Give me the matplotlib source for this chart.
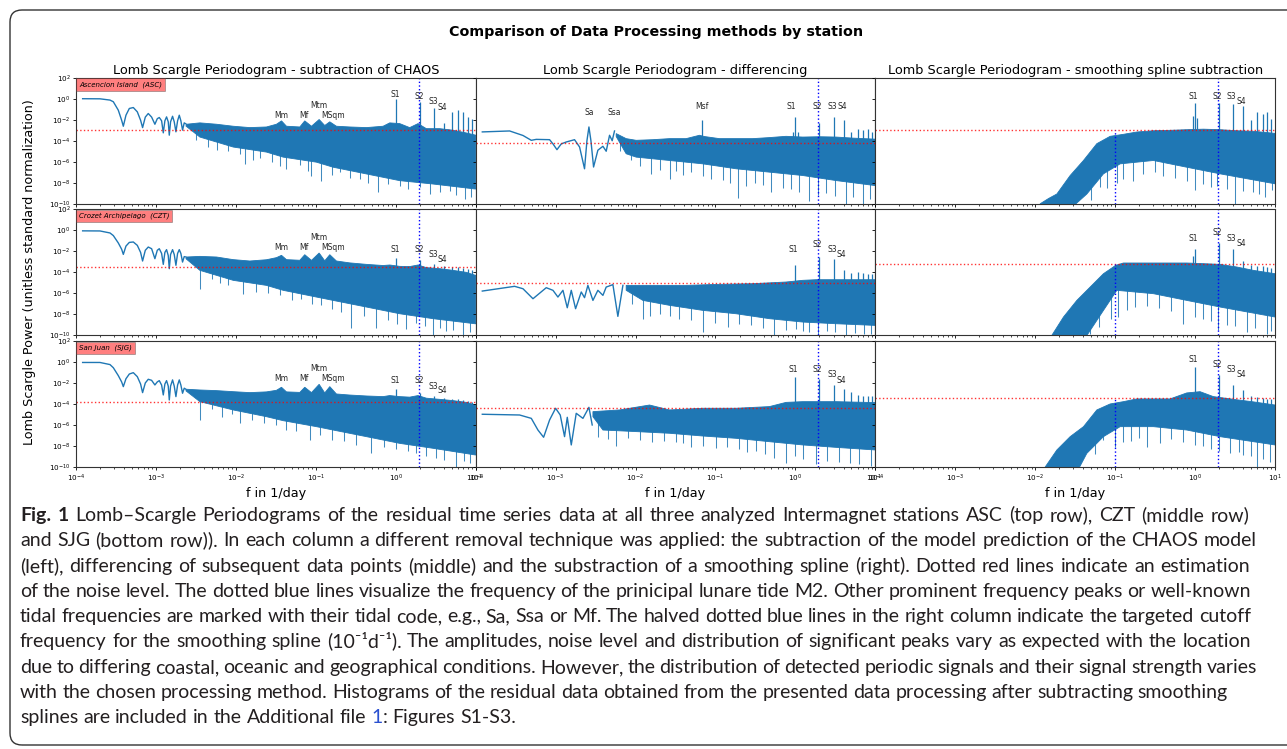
import numpy as np
import matplotlib
matplotlib.use("Agg")
import matplotlib.pyplot as plt
from matplotlib.patches import FancyBboxPatch
from matplotlib.transforms import IdentityTransform
from matplotlib.ticker import FixedLocator, NullLocator

W, H, DPI = 1287, 749, 100
BLUE = "#1f77b4"

# ------------------------------------------------------------------ texts
fig_title = "Comparison of Data Processing methods by station"
col_titles = ["Lomb Scargle Periodogram - subtraction of CHAOS",
              "Lomb Scargle Periodogram - differencing",
              "Lomb Scargle Periodogram - smoothing spline subtraction"]
station_labels = ["Ascencion Island  (ASC)", "Crozet Archipelago  (CZT)", "San Juan  (SJG)"]
y_label = "Lomb Scargle Power (unitless standard normalization)"
x_label = "f in 1/day"
m2_freq = 1.9323
cutoff_freq = 0.1
y_tick_exps = [2, 0, -2, -4, -6, -8, -10]

# ------------------------------------------------------------------ data
# all values, stored as log10(frequency) / log10(power)

# ---- column 1: subtraction of CHAOS
chaos_curve_lf = [-3.917, -3.700, -3.575, -3.533, -3.471, -3.429, -3.408, -3.375, -3.333, -3.283,
                  -3.233, -3.192, -3.167, -3.133, -3.096, -3.054, -3.013, -2.983, -2.958, -2.929,
                  -2.908, -2.888, -2.867, -2.846, -2.833, -2.817, -2.792, -2.771, -2.750, -2.729,
                  -2.708, -2.688, -2.667, -2.646, -2.625]
asc_chaos_curve_lp = [0.0, -0.01, -0.13, -0.29, -1.09, -2.05, -2.62, -1.57, -0.93, -0.84,
                      -1.25, -2.05, -2.75, -1.75, -1.41, -1.75, -2.43, -1.9, -1.79, -2.1,
                      -3.25, -2.1, -1.73, -2.2, -3.47, -2.2, -1.67, -2.2, -3.15, -2.1,
                      -1.57, -2.1, -2.99, -2.3, -2.4]
czt_chaos_curve_lp = [-0.05, -0.06, -0.25, -0.5, -1.2, -1.8, -2.29, -1.5, -1.15, -1.11,
                      -1.43, -2.1, -2.92, -1.9, -1.59, -1.75, -2.7, -1.9, -1.75, -2.2,
                      -3.24, -2.1, -1.84, -2.4, -3.65, -2.3, -1.84, -2.3, -3.33, -2.2,
                      -1.84, -2.2, -3.02, -2.5, -2.54]
sjg_chaos_curve_lp = [-0.05, -0.05, -0.25, -0.55, -1.3, -1.9, -2.35, -1.6, -1.15, -1.02,
                      -1.4, -2.1, -2.92, -2.0, -1.65, -1.75, -2.19, -1.9, -1.78, -2.2,
                      -3.14, -2.1, -1.78, -2.3, -3.62, -2.3, -1.71, -2.3, -3.3, -2.2,
                      -1.71, -2.2, -2.98, -2.5, -2.6]

chaos_top_lf = [-2.617, -2.45, -2.242, -2.033, -1.825, -1.617, -1.492, -1.429, -1.367, -1.2,
                -1.138, -1.054, -0.958, -0.888, -0.825, -0.742, -0.575, -0.367, -0.158, -0.075,
                0.05, 0.175, 0.279, 0.383, 0.55, 0.717, 0.883, 1.0]
asc_chaos_top_lp = [-2.43, -2.30, -2.43, -2.62, -2.75, -2.69, -2.43, -2.11, -2.62, -2.69,
                    -2.11, -2.62, -1.98, -2.55, -2.2, -2.62, -2.69, -2.75, -2.62, -2.3,
                    -2.37, -2.75, -2.37, -2.85, -2.85, -3.0, -3.26, -3.47]
czt_chaos_top_lp = [-2.54, -2.48, -2.54, -2.79, -2.92, -2.8, -2.6, -2.38, -2.79, -2.85,
                    -2.32, -2.86, -2.16, -2.9, -2.32, -2.92, -3.1, -3.24, -3.35, -3.3,
                    -3.43, -3.45, -3.3, -3.55, -3.65, -3.81, -4.0, -4.29]
sjg_chaos_top_lp = [-2.6, -2.67, -2.73, -2.83, -2.92, -2.85, -2.7, -2.41, -2.85, -2.9,
                    -2.41, -2.92, -2.13, -2.95, -2.35, -3.05, -3.15, -3.24, -3.3, -3.2,
                    -3.3, -3.35, -3.2, -3.45, -3.56, -3.68, -3.85, -4.1]

chaos_bot_lf = [-2.625, -2.45, -2.033, -1.617, -1.408, -0.992, -0.783, -0.367, 0.05, 0.467, 1.0]
asc_chaos_bot_lp = [-2.6, -3.65, -4.60, -5.08, -5.56, -6.04, -6.52, -7.16, -7.80, -8.12, -8.6]
czt_chaos_bot_lp = [-2.7, -3.81, -4.76, -5.24, -5.71, -6.35, -6.67, -7.3, -7.94, -8.41, -8.9]
sjg_chaos_bot_lp = [-2.75, -3.78, -4.57, -5.21, -5.59, -6.16, -6.48, -7.11, -7.75, -8.22, -8.86]

asc_chaos_dip_lf = [-2.5, -2.35, -2.242, -2.1, -1.95, -1.888, -1.78, -1.7, -1.55, -1.45,
                    -1.367, -1.2, -1.1, -1.054, -0.929, -0.8, -0.7, -0.575, -0.45, -0.35,
                    -0.221, -0.1, 0.05, 0.15, 0.3, 0.425, 0.55, 0.675, 0.75, 0.863, 0.946]
asc_chaos_dip_lp = [-3.9, -4.6, -4.9, -5.0, -5.3, -6.2, -5.8, -5.6, -6.0, -6.4,
                    -6.68, -6.3, -6.9, -7.32, -7.8, -7.3, -7.0, -7.5, -7.6, -8.0,
                    -8.92, -8.1, -8.3, -8.6, -8.4, -9.08, -8.9, -8.8, -9.2, -9.54, -9.4]
czt_chaos_dip_lf = [-2.45, -2.3, -2.2, -2.096, -1.908, -1.75, -1.6, -1.45, -1.3, -1.179,
                    -1.05, -0.929, -0.8, -0.68, -0.554, -0.4, -0.242, -0.1, 0.02, 0.133,
                    0.25, 0.37, 0.467, 0.55, 0.633, 0.72, 0.842, 0.93]
czt_chaos_dip_lp = [-5.62, -4.6, -5.0, -5.24, -6.03, -5.9, -6.0, -6.2, -6.6, -6.5,
                    -7.0, -7.14, -7.5, -7.8, -9.3, -8.2, -9.3, -8.5, -8.9, -9.4,
                    -8.8, -9.1, -10.0, -9.3, -9.6, -9.5, -10.0, -9.7]
sjg_chaos_dip_lf = [-2.45, -2.3, -2.179, -2.05, -1.95, -1.8, -1.65, -1.5, -1.367, -1.25,
                    -1.075, -0.95, -0.8, -0.65, -0.5, -0.304, -0.15, 0.0, 0.15, 0.25,
                    0.383, 0.5, 0.6, 0.758, 0.85, 0.925]
sjg_chaos_dip_lp = [-5.52, -4.5, -5.2, -5.0, -5.84, -5.5, -5.8, -6.0, -6.48, -6.6,
                    -7.43, -7.0, -7.4, -7.5, -7.9, -8.7, -8.1, -8.3, -8.5, -8.7,
                    -9.0, -9.1, -9.3, -9.97, -9.4, -9.6]

harm_f = [1, 2, 3, 4, 5, 6, 7, 8, 9]
asc_chaos_peak_lp = [-0.04, -0.29, -0.93, -2.3, -1.3, -1.12, -1.3, -1.7, -1.89]
czt_chaos_peak_lp = [-2.6, -2.83, -3.2, -3.4, -3.5, -3.5, -3.6, -3.7, -3.8]
sjg_chaos_peak_lp = [-2.6, -2.98, -3.2, -3.45, -3.5, -3.5, -3.6, -3.7, -3.8]

asc_chaos_noise_lp = -3.0
czt_chaos_noise_lp = -3.52
sjg_chaos_noise_lp = -3.78

chaos_lab_names = ["Mm", "Mf", "Mtm", "MSqm", "S1", "S2", "S3", "S4"]
chaos_lab_lf = [-1.43, -1.15, -0.96, -0.78, 0.0, 0.29, 0.47, 0.58]
asc_chaos_lab_lp = [-1.57, -1.57, -0.61, -1.57, 0.41, 0.18, -0.3, -0.83]
czt_chaos_lab_lp = [-1.59, -1.59, -0.64, -1.59, -1.84, -1.84, -2.32, -2.79]
sjg_chaos_lab_lp = [-1.56, -1.56, -0.6, -1.56, -1.81, -1.81, -2.29, -2.76]

# ---- column 2: differencing
asc_diff_curve_lf = [-3.917, -3.575, -3.408, -3.304, -3.242, -3.075, -3.033, -2.983, -2.929, -2.867,
                     -2.763, -2.7, -2.638, -2.608, -2.583, -2.558, -2.525, -2.471, -2.408, -2.367,
                     -2.325, -2.292, -2.263]
asc_diff_curve_lp = [-3.16, -3.07, -3.5, -3.96, -3.87, -3.9, -4.3, -4.85, -4.3, -4.12,
                     -3.9, -4.6, -6.67, -4.0, -2.69, -4.0, -6.5, -4.9, -4.53, -5.0,
                     -3.48, -4.0, -3.07]
czt_diff_curve_lf = [-3.917, -3.513, -3.408, -3.283, -3.117, -3.033, -2.971, -2.908, -2.854, -2.804,
                     -2.75, -2.679, -2.638, -2.596, -2.533, -2.471, -2.408, -2.367, -2.283, -2.221,
                     -2.158]
czt_diff_curve_lp = [-5.78, -5.33, -5.56, -6.51, -5.46, -5.71, -6.35, -5.71, -7.37, -5.71,
                     -7.46, -5.87, -6.41, -5.24, -6.67, -5.71, -6.19, -5.4, -5.17, -8.19,
                     -5.24]
sjg_diff_curve_lf = [-3.917, -3.45, -3.304, -3.221, -3.15, -3.075, -3.0, -2.942, -2.888, -2.854,
                     -2.804, -2.742, -2.658, -2.583, -2.542]
sjg_diff_curve_lp = [-4.98, -5.05, -5.37, -6.48, -7.17, -5.52, -4.41, -5.05, -7.11, -5.27,
                     -7.9, -4.89, -5.37, -4.32, -6.0]

asc_diff_top_lf = [-2.242, -2.117, -1.992, -1.783, -1.575, -1.367, -1.2, -1.138, -0.95, -0.742,
                   -0.533, -0.325, -0.117, 0.092, 0.3, 0.508, 0.717, 1.0]
asc_diff_top_lp = [-3.32, -3.8, -3.96, -3.9, -3.8, -3.8, -3.48, -3.6, -3.8, -3.8,
                   -3.8, -3.7, -3.58, -3.65, -3.62, -3.65, -3.75, -3.85]
asc_diff_bot_lf = [-2.242, -2.117, -1.992, -1.575, -1.158, -0.742, -0.325, 0.092, 0.508, 1.0]
asc_diff_bot_lp = [-3.6, -5.24, -5.56, -5.88, -6.2, -6.67, -6.99, -7.31, -7.79, -8.27]
czt_diff_top_lf = [-2.117, -1.783, -1.367, -0.95, -0.533, -0.117, 0.092, 0.258, 0.508, 1.0]
czt_diff_top_lp = [-5.24, -5.24, -5.24, -5.14, -5.08, -4.92, -4.76, -4.7, -4.7, -4.7]
czt_diff_bot_lf = [-2.117, -1.908, -1.575, -1.158, -0.742, -0.325, 0.092, 0.508, 1.0]
czt_diff_bot_lp = [-5.71, -6.67, -7.14, -7.62, -7.94, -8.41, -8.73, -8.89, -9.05]
sjg_diff_top_lf = [-2.533, -2.2, -1.825, -1.575, -1.158, -0.742, -0.325, -0.117, 0.092, 0.508, 1.0]
sjg_diff_top_lp = [-4.73, -4.57, -4.1, -4.57, -4.41, -4.41, -4.25, -3.85, -3.78, -3.78, -3.87]
sjg_diff_bot_lf = [-2.533, -2.408, -1.992, -1.575, -1.158, -0.742, -0.325, 0.092, 0.508, 1.0]
sjg_diff_bot_lp = [-5.21, -6.48, -6.63, -6.79, -7.05, -7.27, -7.59, -7.9, -8.13, -8.38]

asc_diff_dip_lf = [-2.2, -2.054, -1.95, -1.804, -1.7, -1.575, -1.5, -1.408, -1.3, -1.158,
                   -1.05, -0.9, -0.82, -0.721, -0.617, -0.5, -0.4, -0.3, -0.158, -0.05,
                   0.05, 0.175, 0.28, 0.383, 0.5, 0.633, 0.72, 0.842, 0.93]
asc_diff_dip_lp = [-5.0, -5.88, -6.4, -7.15, -6.8, -7.63, -6.9, -7.3, -7.0, -7.4,
                   -7.6, -7.7, -8.0, -9.45, -8.27, -8.0, -8.2, -8.9, -8.5, -8.6,
                   -8.9, -9.7, -9.2, -9.0, -9.3, -10.0, -9.4, -10.0, -9.5]
czt_diff_dip_lf = [-2.05, -1.908, -1.825, -1.7, -1.575, -1.45, -1.3, -1.158, -1.0, -0.846,
                   -0.7, -0.55, -0.4, -0.263, -0.12, 0.008, 0.1, 0.175, 0.279, 0.4,
                   0.5, 0.633, 0.75, 0.863, 0.95]
czt_diff_dip_lp = [-7.0, -8.41, -8.2, -8.0, -8.2, -8.4, -8.5, -9.68, -8.8, -9.2,
                   -8.9, -9.0, -9.3, -10.0, -9.5, -9.4, -9.6, -9.68, -10.0, -9.6,
                   -9.7, -10.0, -9.8, -9.84, -9.9]
sjg_diff_dip_lf = [-2.471, -2.35, -2.242, -2.1, -1.95, -1.792, -1.65, -1.5, -1.4, -1.304,
                   -1.15, -0.992, -0.85, -0.7, -0.6, -0.492, -0.38, -0.263, -0.117, 0.0,
                   0.1, 0.258, 0.4, 0.55, 0.68, 0.8, 0.946]
sjg_diff_dip_lp = [-7.11, -7.3, -8.0, -7.2, -7.4, -7.6, -7.5, -7.6, -7.7, -8.13,
                   -8.0, -8.2, -8.1, -8.3, -8.6, -8.5, -8.8, -9.1, -9.6, -9.0,
                   -9.2, -9.75, -9.4, -9.5, -9.6, -9.75, -9.9]

asc_diff_peak_f = [0.0677, 0.93, 1, 1.07, 2, 3, 4, 5, 6, 7, 8, 9]
asc_diff_peak_lp = [-2.05, -3.2, -1.73, -3.2, -2.3, -1.73, -1.98, -3.16, -2.84, -3.0, -2.84, -3.16]
czt_diff_peak_lp = [-3.33, -2.54, -2.76, -3.81, -4.06, -4.0, -4.1, -4.2, -4.2]
sjg_diff_peak_lp = [-1.4, -1.65, -2.19, -2.57, -2.83, -3.14, -3.21, -3.21, -3.21]

asc_diff_noise_lp = -4.19
czt_diff_noise_lp = -5.05
sjg_diff_noise_lp = -4.35

asc_diff_lab_names = ["Sa", "Ssa", "Msf", "S1", "S2", "S3", "S4"]
asc_diff_lab_lf = [-2.583, -2.263, -1.167, -0.054, 0.271, 0.458, 0.583]
asc_diff_lab_lp = [-1.31, -1.31, -0.77, -0.77, -0.77, -0.77, -0.77]
s_lab_names = ["S1", "S2", "S3", "S4"]
diff_s_lab_lf = [-0.025, 0.279, 0.458, 0.579]
czt_diff_lab_lp = [-1.81, -1.33, -1.81, -2.29]
sjg_diff_lab_lp = [-0.76, -0.76, -1.24, -1.78]

# ---- column 3: smoothing spline subtraction
asc_spline_top_lf = [-1.9375, -1.833, -1.729, -1.5625, -1.396, -1.229, -1.0625, -0.896, -0.729,
                     -0.521, -0.3125, -0.104, 0.104, 0.3125, 0.521, 0.729, 1.0]
asc_spline_top_lp = [-10.0, -9.5, -9.07, -7.31, -5.88, -4.28, -3.58, -3.39, -3.17,
                     -3.05, -3.01, -2.95, -2.9, -2.95, -3.05, -3.1, -3.3]
asc_spline_bot_lf = [-1.9375, -1.5625, -1.354, -1.146, -0.9375, -0.521, -0.104, 0.3125, 1.0]
asc_spline_bot_lp = [-10.5, -10.5, -9.07, -7.15, -6.2, -5.88, -6.52, -7.15, -8.1]
czt_spline_top_lf = [-1.792, -1.646, -1.479, -1.3125, -1.146, -0.992, -0.896, -0.521, -0.104,
                     0.3125, 0.521, 0.729, 1.0]
czt_spline_top_lp = [-10.0, -8.25, -6.67, -5.4, -4.13, -3.33, -3.11, -3.11, -3.11,
                     -3.24, -3.49, -3.81, -4.13]
czt_spline_bot_lf = [-1.792, -1.396, -1.146, -0.979, -0.521, -0.104, 0.3125, 1.0]
czt_spline_bot_lp = [-10.5, -10.5, -7.62, -5.71, -6.03, -6.67, -7.3, -8.25]
sjg_spline_top_lf = [-1.875, -1.729, -1.5625, -1.396, -1.229, -1.0625, -0.896, -0.729, -0.3125,
                     -0.104, 0.0625, 0.229, 0.521, 0.729, 1.0]
sjg_spline_top_lp = [-10.0, -8.38, -7.11, -6.16, -4.57, -4.0, -3.78, -3.52, -3.52,
                     -2.95, -2.83, -3.3, -3.6, -3.8, -4.1]
sjg_spline_bot_lf = [-1.875, -1.479, -1.354, -1.146, -0.9375, -0.521, -0.104, 0.3125, 1.0]
sjg_spline_bot_lp = [-10.5, -10.5, -8.7, -7.11, -6.16, -6.16, -6.48, -7.11, -7.9]

asc_spline_dip_lf = [-1.3, -1.1875, -1.1, -0.979, -0.9, -0.771, -0.65, -0.5, -0.396, -0.25,
                     -0.1, 0.0, 0.1, 0.2, 0.271, 0.4, 0.5, 0.6, 0.729, 0.8, 0.875, 0.958]
asc_spline_dip_lp = [-9.6, -8.44, -8.5, -8.0, -7.6, -7.8, -7.2, -7.0, -7.4, -7.5,
                     -7.8, -8.73, -8.1, -8.4, -8.3, -8.6, -10.0, -8.8, -8.9, -9.1, -9.4, -8.7]
czt_spline_dip_lf = [-1.3125, -1.2, -1.05, -0.958, -0.85, -0.75, -0.6, -0.45, -0.3, -0.146,
                     0.0, 0.1, 0.2, 0.292, 0.4, 0.5, 0.646, 0.75, 0.896, 0.95]
czt_spline_dip_lp = [-9.84, -9.2, -8.4, -8.25, -7.6, -7.3, -7.2, -7.4, -7.7, -8.89,
                     -8.25, -8.4, -8.6, -9.52, -9.0, -9.1, -9.68, -9.3, -9.84, -9.6]
sjg_spline_dip_lf = [-1.25, -1.146, -1.0, -0.9, -0.8, -0.7, -0.604, -0.4375, -0.3, -0.15,
                     0.0, 0.1, 0.2, 0.3, 0.4375, 0.55, 0.604, 0.7, 0.771, 0.85, 0.9375]
sjg_spline_dip_lp = [-8.8, -7.43, -8.06, -7.6, -7.5, -7.2, -8.06, -7.75, -7.3, -7.6,
                     -7.9, -8.0, -8.3, -8.5, -8.7, -8.6, -8.86, -9.0, -9.97, -9.2, -9.49]

asc_spline_peak_f = [0.93, 1, 1.07, 2, 3, 4, 5, 6, 7, 8, 9]
asc_spline_peak_lp = [-1.6, -0.45, -1.8, -0.45, -0.51, -0.7, -2.05, -1.25, -1.41, -1.25, -1.89]
czt_spline_peak_f = [0.93, 1, 2, 3, 4, 5, 6, 7, 8, 9]
czt_spline_peak_lp = [-2.4, -1.81, -1.17, -1.75, -2.92, -3.3, -3.35, -3.4, -3.5, -3.6]
sjg_spline_peak_lp = [-0.44, -1.24, -2.19, -2.67, -3.2, -3.3, -3.46, -3.5, -3.5]

asc_spline_noise_lp = -3.0
czt_spline_noise_lp = -3.24
sjg_spline_noise_lp = -3.46

spline_s_lab_lf = [-0.021, 0.283, 0.458, 0.583]
asc_spline_lab_lp = [0.25, 0.25, 0.25, -0.3]
czt_spline_lab_lp = [-0.79, -0.25, -0.79, -1.27]
sjg_spline_lab_lp = [0.19, -0.29, -0.76, -1.24]

# ---- caption
caption_lines = [
    "Fig. 1 Lomb\u2013Scargle Periodograms of the residual time series data at all three analyzed Intermagnet stations ASC (top row), CZT (middle row)",
    "and SJG (bottom row)). In each column a different removal technique was applied: the subtraction of the model prediction of the CHAOS model",
    "(left), differencing of subsequent data points (middle) and the substraction of a smoothing spline (right). Dotted red lines indicate an estimation",
    "of the noise level. The dotted blue lines visualize the frequency of the prinicipal lunare tide M2. Other prominent frequency peaks or well-known",
    "tidal frequencies are marked with their tidal code, e.g., Sa, Ssa or Mf. The halved dotted blue lines in the right column indicate the targeted cutoff",
    "frequency for the smoothing spline (10\u207b\u00b9d\u207b\u00b9). The amplitudes, noise level and distribution of significant peaks vary as expected with the location",
    "due to differing coastal, oceanic and geographical conditions. However, the distribution of detected periodic signals and their signal strength varies",
    "with the chosen processing method. Histograms of the residual data obtained from the presented data processing after subtracting smoothing",
    "splines are included in the Additional file 1: Figures S1-S3.",
]
cap_right = [1249, 1257, 1250, 1251, 1251, 1251, 1257, 1228, None]
cap_base = [521, 546, 572, 597, 622, 647, 673, 698, 723]

# ------------------------------------------------------------------ table
def P(curve, top, bot, dips, peaks, noise, labels):
    return dict(curve=curve, top=top, bot=bot, dips=dips, peaks=peaks, noise=noise, labels=labels)

panels = [
    [P((chaos_curve_lf, asc_chaos_curve_lp), (chaos_top_lf, asc_chaos_top_lp), (chaos_bot_lf, asc_chaos_bot_lp),
       (asc_chaos_dip_lf, asc_chaos_dip_lp), (harm_f, asc_chaos_peak_lp), asc_chaos_noise_lp,
       (chaos_lab_names, chaos_lab_lf, asc_chaos_lab_lp)),
     P((asc_diff_curve_lf, asc_diff_curve_lp), (asc_diff_top_lf, asc_diff_top_lp), (asc_diff_bot_lf, asc_diff_bot_lp),
       (asc_diff_dip_lf, asc_diff_dip_lp), (asc_diff_peak_f, asc_diff_peak_lp), asc_diff_noise_lp,
       (asc_diff_lab_names, asc_diff_lab_lf, asc_diff_lab_lp)),
     P(None, (asc_spline_top_lf, asc_spline_top_lp), (asc_spline_bot_lf, asc_spline_bot_lp),
       (asc_spline_dip_lf, asc_spline_dip_lp), (asc_spline_peak_f, asc_spline_peak_lp), asc_spline_noise_lp,
       (s_lab_names, spline_s_lab_lf, asc_spline_lab_lp))],
    [P((chaos_curve_lf, czt_chaos_curve_lp), (chaos_top_lf, czt_chaos_top_lp), (chaos_bot_lf, czt_chaos_bot_lp),
       (czt_chaos_dip_lf, czt_chaos_dip_lp), (harm_f, czt_chaos_peak_lp), czt_chaos_noise_lp,
       (chaos_lab_names, chaos_lab_lf, czt_chaos_lab_lp)),
     P((czt_diff_curve_lf, czt_diff_curve_lp), (czt_diff_top_lf, czt_diff_top_lp), (czt_diff_bot_lf, czt_diff_bot_lp),
       (czt_diff_dip_lf, czt_diff_dip_lp), (harm_f, czt_diff_peak_lp), czt_diff_noise_lp,
       (s_lab_names, diff_s_lab_lf, czt_diff_lab_lp)),
     P(None, (czt_spline_top_lf, czt_spline_top_lp), (czt_spline_bot_lf, czt_spline_bot_lp),
       (czt_spline_dip_lf, czt_spline_dip_lp), (czt_spline_peak_f, czt_spline_peak_lp), czt_spline_noise_lp,
       (s_lab_names, spline_s_lab_lf, czt_spline_lab_lp))],
    [P((chaos_curve_lf, sjg_chaos_curve_lp), (chaos_top_lf, sjg_chaos_top_lp), (chaos_bot_lf, sjg_chaos_bot_lp),
       (sjg_chaos_dip_lf, sjg_chaos_dip_lp), (harm_f, sjg_chaos_peak_lp), sjg_chaos_noise_lp,
       (chaos_lab_names, chaos_lab_lf, sjg_chaos_lab_lp)),
     P((sjg_diff_curve_lf, sjg_diff_curve_lp), (sjg_diff_top_lf, sjg_diff_top_lp), (sjg_diff_bot_lf, sjg_diff_bot_lp),
       (sjg_diff_dip_lf, sjg_diff_dip_lp), (harm_f, sjg_diff_peak_lp), sjg_diff_noise_lp,
       (s_lab_names, diff_s_lab_lf, sjg_diff_lab_lp)),
     P(None, (sjg_spline_top_lf, sjg_spline_top_lp), (sjg_spline_bot_lf, sjg_spline_bot_lp),
       (sjg_spline_dip_lf, sjg_spline_dip_lp), (harm_f, sjg_spline_peak_lp), sjg_spline_noise_lp,
       (s_lab_names, spline_s_lab_lf, sjg_spline_lab_lp))],
]


def L(a):
    return 10.0 ** np.asarray(a, dtype=float)


# ------------------------------------------------------------------ figure
fig = plt.figure(figsize=(W / DPI, H / DPI), dpi=DPI)
axes = fig.subplots(3, 3, sharex=True, sharey=True,
                    gridspec_kw=dict(left=76 / W, right=1275 / W, top=1 - 77.7 / H,
                                     bottom=1 - 467 / H, wspace=0, hspace=0.044))

for r in range(3):
    for c in range(3):
        ax = axes[r, c]
        p = panels[r][c]
        ax.set_xscale("log")
        ax.set_yscale("log")
        if p["curve"] is not None:
            ax.plot(L(p["curve"][0]), L(p["curve"][1]), color=BLUE, lw=1.0)
        tf, tp = (np.asarray(v, float) for v in p["top"])
        bf, bp = (np.asarray(v, float) for v in p["bot"])
        ax.fill(L(np.r_[tf, bf[::-1]]), L(np.r_[tp, bp[::-1]]),
                facecolor=BLUE, edgecolor=BLUE, lw=0.6)
        df, dp = (np.asarray(v, float) for v in p["dips"])
        ax.vlines(L(df), L(dp), L(np.interp(df, bf, bp) + 0.3), color=BLUE, lw=0.75, alpha=0.85)
        pf = np.asarray(p["peaks"][0], float)
        pp = np.asarray(p["peaks"][1], float)
        ax.vlines(pf, L(np.interp(np.log10(pf), tf, tp) - 0.3), L(pp), color=BLUE, lw=0.9)
        noise = float(L(p["noise"]))
        ax.axhline(noise, color="red", ls=":", lw=1.0, alpha=0.8)
        ax.axvline(m2_freq, color="blue", ls=":", lw=1.0)
        if c == 2:
            ax.vlines(cutoff_freq, 1e-10, noise, color="blue", linestyles=":", lw=1.0)
        names, lf, lp = p["labels"]
        for n, x, y in zip(names, lf, lp):
            ax.text(float(L(x)), float(L(y)), n, fontsize=5.5, ha="center", va="center", color="#262626")
        ax.set_xlim(1e-4, 1e1)
        ax.set_ylim(1e-10, 1e2)
        ax.yaxis.set_major_locator(FixedLocator(L(y_tick_exps)))
        ax.yaxis.set_minor_locator(NullLocator())
        ax.tick_params(labelsize=5.2, length=2.5, width=0.6, pad=1.5)
        ax.tick_params(which="minor", length=1.5, width=0.5)
        for s in ax.spines.values():
            s.set_linewidth(0.8)
            s.set_color("#333333")
        if r == 0:
            ax.set_title(col_titles[c], fontsize=9.3, pad=2.5)
        if r == 2:
            ax.set_xlabel(x_label, fontsize=9.2, labelpad=2)
        if c == 0:
            ax.text(0.0075, 0.972, station_labels[r], transform=ax.transAxes, fontsize=5.0,
                    style="italic", ha="left", va="top",
                    bbox=dict(boxstyle="square,pad=0.4", facecolor="red", edgecolor="#555555", alpha=0.5, lw=0.6))

fig.text(30 / W, 1 - 272 / H, y_label, rotation=90, fontsize=9.2, ha="center", va="center")
fig.text(656 / W, 1 - 32 / H, fig_title, fontsize=10.3, weight="bold", ha="center", va="center")

# outer rounded frame
frame = FancyBboxPatch((10, H - 745), 1300, 735, boxstyle="round,pad=0,rounding_size=12",
                       transform=IdentityTransform(), fill=False, ec="#333333", lw=1.0)
fig.patches.append(frame)

# ------------------------------------------------------------------ caption
cap_font = ["Lato", "DejaVu Sans"]
cap_x0 = 20
renderer = fig.canvas.get_renderer()


def twidth(s, fs, weight="normal"):
    t = fig.text(0, 0, s, fontsize=fs, family=cap_font, weight=weight)
    w = t.get_window_extent(renderer).width
    t.remove()
    return w


def tokens_of(i, line):
    words = line.split(" ")
    toks = []
    for j, w in enumerate(words):
        if i == 0 and j < 2:
            toks.append([w, "bold", "#231f20", True])
        elif i == len(caption_lines) - 1 and w == "1:":
            toks.append(["1", "normal", "#2a50d0", True])
            toks.append([":", "normal", "#231f20", False])
        else:
            toks.append([w, "normal", "#231f20", True])
    return toks


fs0 = 12.5
space0 = twidth("a a", fs0) - twidth("aa", fs0)
ratios = []
line_toks = []
for i, line in enumerate(caption_lines):
    toks = tokens_of(i, line)
    line_toks.append(toks)
    if cap_right[i] is not None:
        nat = sum(twidth(t[0], fs0, t[1]) for t in toks) + space0 * sum(1 for t in toks[1:] if t[3])
        ratios.append((cap_right[i] - cap_x0) / nat)
fs = fs0 * float(np.median(ratios))
space = twidth("a a", fs) - twidth("aa", fs)

for i, toks in enumerate(line_toks):
    widths = [twidth(t[0], fs, t[1]) for t in toks]
    ngaps = sum(1 for t in toks[1:] if t[3])
    if cap_right[i] is not None:
        gap = (cap_right[i] - cap_x0 - sum(widths)) / ngaps
    else:
        gap = space
    x = cap_x0
    for k, (t, w) in enumerate(zip(toks, widths)):
        if k > 0 and t[3]:
            x += gap
        fig.text(x / W, 1 - cap_base[i] / H, t[0], fontsize=fs, family=cap_font, weight=t[1],
                 color=t[2], ha="left", va="baseline")
        x += w

fig.savefig("out.png", dpi=DPI)
